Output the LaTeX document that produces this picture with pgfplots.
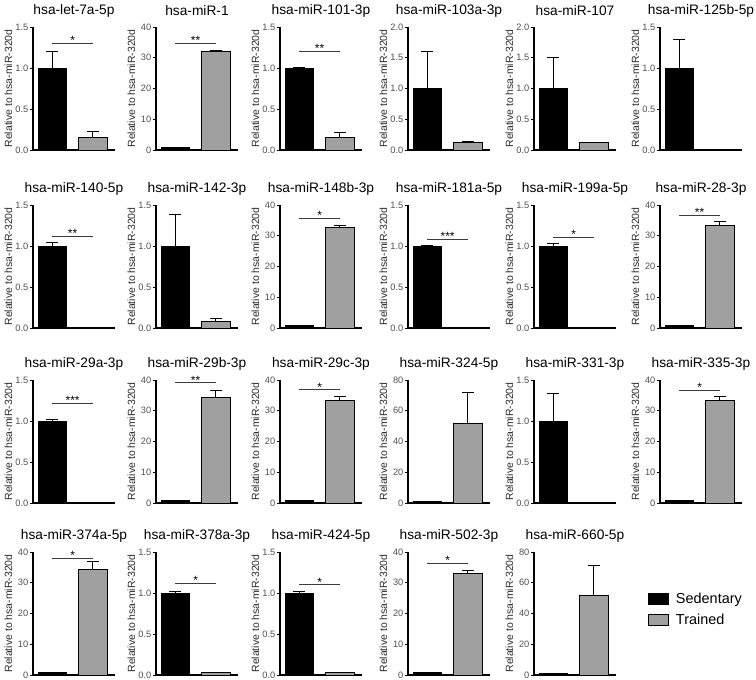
\documentclass[border=0pt]{standalone}
\usepackage{fontspec}
\setmainfont{Liberation Sans}
\usepackage{pgfplots}
\pgfplotsset{compat=1.18}
\definecolor{trgray}{RGB}{160,160,160}
\definecolor{tickgray}{RGB}{80,80,80}
\definecolor{labgray}{RGB}{45,45,45}
\definecolor{siggray}{RGB}{60,60,60}

\pgfplotsset{
 panel/.style={
  scale only axis, width=82bp, height=123bp, anchor=south west,
  xmin=-0.48, xmax=1.55, ymin=0,
  axis x line*=bottom, axis y line*=left,
  axis line style={line width=1.1bp, -},
  xtick=\empty,
  tick align=outside, major tick length=3bp,
  ytick style={line width=0.9bp, black},
  /pgf/number format/assume math mode=true,
  yticklabel style={font=\fontsize{9.3}{10}\selectfont, color=tickgray, inner sep=1.5bp},
  ylabel={Relative to hsa-miR-320d},
  every axis y label/.style={at={(axis description cs:-0.3,0.5)}, rotate=90, anchor=center, font=\fontsize{10.5}{12}\selectfont, color=labgray},
  title style={at={(axis description cs:0.5,1)}, anchor=center, yshift=10.5bp, font=\fontsize{13.8}{15}\selectfont},
  clip=false,
 },
 s15/.style={ymax=1.5, ytick={0,0.5,1,1.5}, yticklabel style={/pgf/number format/.cd, fixed, fixed zerofill, precision=1}},
 s20/.style={ymax=2, ytick={0,0.5,1,1.5,2}, yticklabel style={/pgf/number format/.cd, fixed, fixed zerofill, precision=1}},
 s40/.style={ymax=40, ytick={0,10,20,30,40}},
 s80/.style={ymax=80, ytick={0,20,40,60,80}},
 barbase/.style={ybar, bar width=0.7, bar shift=0pt, line width=0.8bp, draw=black,
   error bars/y dir=plus, error bars/y explicit,
   error bars/error bar style={line width=1bp, black},
   error bars/error mark options={rotate=90, line width=1bp, mark size=6bp, black}},
 sed/.style={barbase, fill=black},
 trn/.style={barbase, fill=trgray},
 noerr/.style={error bars/y dir=none},
}
\newcommand{\sig}[2]{%
 \addplot[siggray, line width=0.9bp, mark=none, forget plot] coordinates {(0,#1) (1,#1)};
 \node[anchor=south, inner sep=0pt, yshift=-1.5bp, font=\fontsize{12}{13}\selectfont] at (axis cs:0.5,#1) {#2};}

\begin{document}
\begin{tikzpicture}
\useasboundingbox (0,0) rectangle (756bp,680bp);
% ---------- Row 1 ----------
\begin{axis}[panel, s15, at={(33bp,530bp)}, title={hsa-let-7a-5p}]
\addplot[sed] coordinates {(0,1) +- (0,0.2)};
\addplot[trn] coordinates {(1,0.15) +- (0,0.07)};
\sig{1.3}{*}
\end{axis}
\begin{axis}[panel, s40, at={(156bp,530bp)}, title={hsa-miR-1}]
\addplot[sed, noerr] coordinates {(0,1)};
\addplot[trn] coordinates {(1,32.2) +- (0,0.2)};
\sig{34.6}{**}
\end{axis}
\begin{axis}[panel, s15, at={(280bp,530bp)}, title={hsa-miR-101-3p}]
\addplot[sed] coordinates {(0,1) +- (0,0.005)};
\addplot[trn] coordinates {(1,0.15) +- (0,0.06)};
\sig{1.2}{**}
\end{axis}
\begin{axis}[panel, s20, at={(408bp,530bp)}, title={hsa-miR-103a-3p}]
\addplot[sed] coordinates {(0,1) +- (0,0.6)};
\addplot[trn] coordinates {(1,0.12) +- (0,0.02)};
\end{axis}
\begin{axis}[panel, s20, at={(534bp,530bp)}, title={hsa-miR-107}]
\addplot[sed] coordinates {(0,1) +- (0,0.5)};
\addplot[trn, noerr] coordinates {(1,0.12)};
\end{axis}
\begin{axis}[panel, s15, at={(660bp,530bp)}, title={hsa-miR-125b-5p}]
\addplot[sed] coordinates {(0,1) +- (0,0.35)};
\addplot[trn, noerr] coordinates {(1,0.01)};
\end{axis}
% ---------- Row 2 ----------
\begin{axis}[panel, s15, at={(33bp,352bp)}, title={hsa-miR-140-5p}]
\addplot[sed] coordinates {(0,1) +- (0,0.04)};
\addplot[trn, noerr] coordinates {(1,0.01)};
\sig{1.12}{**}
\end{axis}
\begin{axis}[panel, s15, at={(156bp,352bp)}, title={hsa-miR-142-3p}]
\addplot[sed] coordinates {(0,1) +- (0,0.38)};
\addplot[trn] coordinates {(1,0.08) +- (0,0.03)};
\end{axis}
\begin{axis}[panel, s40, at={(280bp,352bp)}, title={hsa-miR-148b-3p}]
\addplot[sed, noerr] coordinates {(0,1)};
\addplot[trn] coordinates {(1,32.7) +- (0,0.6)};
\sig{35.7}{*}
\end{axis}
\begin{axis}[panel, s15, at={(408bp,352bp)}, title={hsa-miR-181a-5p}]
\addplot[sed] coordinates {(0,1) +- (0,0.01)};
\addplot[trn, noerr] coordinates {(1,0.01)};
\sig{1.08}{***}
\end{axis}
\begin{axis}[panel, s15, at={(534bp,352bp)}, title={hsa-miR-199a-5p}]
\addplot[sed] coordinates {(0,1) +- (0,0.03)};
\addplot[trn, noerr] coordinates {(1,0.005)};
\sig{1.11}{*}
\end{axis}
\begin{axis}[panel, s40, at={(660bp,352bp)}, title={hsa-miR-28-3p}]
\addplot[sed, noerr] coordinates {(0,1)};
\addplot[trn] coordinates {(1,33.5) +- (0,1.0)};
\sig{36.7}{**}
\end{axis}
% ---------- Row 3 ----------
\begin{axis}[panel, s15, at={(33bp,177bp)}, title={hsa-miR-29a-3p}]
\addplot[sed] coordinates {(0,1) +- (0,0.02)};
\addplot[trn, noerr] coordinates {(1,0.01)};
\sig{1.22}{***}
\end{axis}
\begin{axis}[panel, s40, at={(156bp,177bp)}, title={hsa-miR-29b-3p}]
\addplot[sed, noerr] coordinates {(0,1)};
\addplot[trn] coordinates {(1,34.5) +- (0,2.2)};
\sig{39.1}{**}
\end{axis}
\begin{axis}[panel, s40, at={(280bp,177bp)}, title={hsa-miR-29c-3p}]
\addplot[sed, noerr] coordinates {(0,1)};
\addplot[trn] coordinates {(1,33.5) +- (0,1.2)};
\sig{36.8}{*}
\end{axis}
\begin{axis}[panel, s80, at={(408bp,177bp)}, title={hsa-miR-324-5p}]
\addplot[sed, noerr] coordinates {(0,1)};
\addplot[trn] coordinates {(1,52) +- (0,20)};
\end{axis}
\begin{axis}[panel, s15, at={(534bp,177bp)}, title={hsa-miR-331-3p}]
\addplot[sed] coordinates {(0,1) +- (0,0.33)};
\addplot[trn, noerr] coordinates {(1,0.01)};
\end{axis}
\begin{axis}[panel, s40, at={(660bp,177bp)}, title={hsa-miR-335-3p}]
\addplot[sed, noerr] coordinates {(0,1)};
\addplot[trn] coordinates {(1,33.5) +- (0,1.2)};
\sig{36.7}{*}
\end{axis}
% ---------- Row 4 ----------
\begin{axis}[panel, s40, at={(33bp,5bp)}, title={hsa-miR-374a-5p}]
\addplot[sed, noerr] coordinates {(0,1)};
\addplot[trn] coordinates {(1,34.5) +- (0,2.5)};
\sig{38}{*}
\end{axis}
\begin{axis}[panel, s15, at={(156bp,5bp)}, title={hsa-miR-378a-3p}]
\addplot[sed] coordinates {(0,1) +- (0,0.02)};
\addplot[trn, noerr] coordinates {(1,0.03)};
\sig{1.12}{*}
\end{axis}
\begin{axis}[panel, s15, at={(280bp,5bp)}, title={hsa-miR-424-5p}]
\addplot[sed] coordinates {(0,1) +- (0,0.02)};
\addplot[trn, noerr] coordinates {(1,0.03)};
\sig{1.1}{*}
\end{axis}
\begin{axis}[panel, s40, at={(408bp,5bp)}, title={hsa-miR-502-3p}]
\addplot[sed, noerr] coordinates {(0,1)};
\addplot[trn] coordinates {(1,33) +- (0,1)};
\sig{36.2}{*}
\end{axis}
\begin{axis}[panel, s80, at={(534bp,5bp)}, title={hsa-miR-660-5p},
  legend style={at={(axis description cs:1.39,0.675)}, anchor=north west, draw=none, fill=none,
   font=\fontsize{14.5}{16}\selectfont, row sep=6.5bp, inner sep=0pt,
   nodes={inner sep=1bp, anchor=west}},
  legend cell align=left,
  legend image code/.code={\draw[#1, line width=0.8bp, draw=black] (0bp,-5.5bp) rectangle (20bp,5.5bp);},
  /tikz/every even column/.append style={column sep=12bp}]
\addplot[sed, noerr] coordinates {(0,1)};
\addlegendentry{\hspace{6bp}Sedentary}
\addplot[trn] coordinates {(1,51.5) +- (0,19.5)};
\addlegendentry{\hspace{6bp}Trained}
\end{axis}
\end{tikzpicture}
\end{document}
